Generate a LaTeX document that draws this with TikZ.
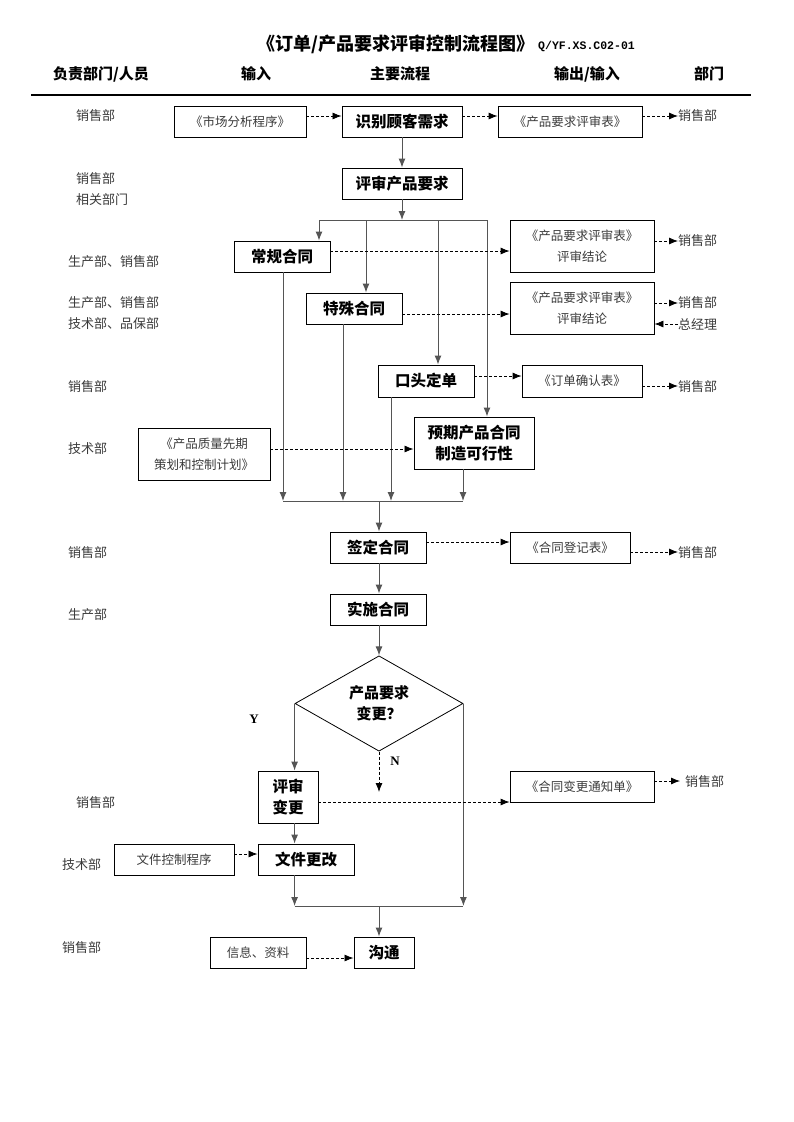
\documentclass[tikz,border=0pt]{standalone}
\usepackage{fontspec}
\setmainfont{Noto Sans CJK SC}
\newfontfamily\monofnt{Liberation Mono}
\newfontfamily\serifnt{Liberation Serif}
\usetikzlibrary{arrows.meta,shapes.geometric}
\definecolor{lbl}{HTML}{3A3A3A}
\definecolor{conn}{HTML}{555555}
\tikzset{
  mainbox/.style={draw=black, line width=0.9pt, inner sep=0pt, align=center,
    font=\bfseries\fontsize{15.5}{21}\selectfont, text=black},
  iobox/.style={draw=black, line width=0.8pt, inner sep=0pt, align=center,
    font=\fontsize{12.5}{21}\selectfont, text=lbl},
  dept/.style={anchor=west, inner sep=0pt, align=left, text=lbl,
    font=\fontsize{13}{21}\selectfont},
  hdr/.style={inner sep=0pt, font=\bfseries\fontsize{15}{18}\selectfont},
  flow/.style={draw=conn, line width=1pt, -{Latex[length=9pt,width=7pt]}},
  plain/.style={draw=conn, line width=1pt},
  dflow/.style={draw=black, line width=0.8pt, dash pattern=on 3pt off 2pt, -{Latex[length=9pt,width=7pt]}},
  yn/.style={inner sep=0pt, font=\serifnt\bfseries\fontsize{13}{15}\selectfont}
}
\begin{document}
\begin{tikzpicture}[x=1pt,y=-1pt]
\useasboundingbox (0,0) rectangle (793,1122);
% title & header
\node[inner sep=0pt, anchor=east, font=\bfseries\fontsize{18}{20}\selectfont] (title) at (535,44) {《订单/产品要求评审控制流程图》};
\node[inner sep=0pt, anchor=west, font=\monofnt\bfseries\fontsize{11.5}{14}\selectfont] (code) at (538,46) {Q/YF.XS.C02-01};
\node[hdr] (h1) at (101,74) {负责部门/人员};
\node[hdr] (h2) at (256,74) {输入};
\node[hdr] (h3) at (400,74) {主要流程};
\node[hdr] (h4) at (587,74) {输出/输入};
\node[hdr] (h5) at (709,74) {部门};
\coordinate (hl) at (31,95);
\coordinate (hr) at (751,95);
\draw[line width=1.2pt] (hl) -- (hr);

% left departments
\node[dept] (d1) at (76,116) {销售部};
\node[dept] (d2) at (76,189) {销售部\\相关部门};
\node[dept] (d3) at (68,262) {生产部、销售部};
\node[dept] (d4) at (68,313.5) {生产部、销售部\\技术部、品保部};
\node[dept] (d5) at (68,387) {销售部};
\node[dept] (d6) at (68,449) {技术部};
\node[dept] (d7) at (68,553) {销售部};
\node[dept] (d8) at (68,615) {生产部};
\node[dept] (d9) at (76,803) {销售部};
\node[dept] (d10) at (62,865) {技术部};
\node[dept] (d11) at (62,948) {销售部};

% right departments
\node[dept] (r1) at (678,116) {销售部};
\node[dept] (r2) at (678,241) {销售部};
\node[dept] (r3) at (678,303) {销售部};
\node[dept] (r4) at (678,324) {总经理};
\node[dept] (r5) at (678,387) {销售部};
\node[dept] (r6) at (678,553) {销售部};
\node[dept] (r7) at (685,782) {销售部};

% main boxes
\node[mainbox, minimum width=120pt, minimum height=31pt] (idn) at (402,121.5) {识别顾客需求};
\node[mainbox, minimum width=120pt, minimum height=31pt] (rev) at (402,183.5) {评审产品要求};
\node[mainbox, minimum width=96pt, minimum height=31pt] (cg) at (282,256.5) {常规合同};
\node[mainbox, minimum width=96pt, minimum height=31pt] (ts) at (354,308.5) {特殊合同};
\node[mainbox, minimum width=96pt, minimum height=32pt] (kt) at (426,381) {口头定单};
\node[mainbox, minimum width=120pt, minimum height=52pt] (yq) at (474,443) {预期产品合同\\制造可行性};
\node[mainbox, minimum width=96pt, minimum height=31pt] (qd) at (378,547.5) {签定合同};
\node[mainbox, minimum width=96pt, minimum height=31pt] (ss) at (378,609.5) {实施合同};
\node[draw=black, line width=0.8pt, shape=diamond, minimum width=168pt, minimum height=93pt, inner sep=0pt, align=center,
  font=\bfseries\fontsize{15}{21}\selectfont] (dia) at (379,703.5) {产品要求\\变更？};
\node[mainbox, minimum width=60pt, minimum height=52pt] (psbg) at (288,797) {评审\\变更};
\node[mainbox, minimum width=96pt, minimum height=31pt] (wjgg) at (306,859.5) {文件更改};
\node[mainbox, minimum width=60pt, minimum height=31pt] (gt) at (384,952.5) {沟通};

% io boxes
\node[iobox, minimum width=132pt, minimum height=31pt] (mkt) at (240,121.5) {《市场分析程序》};
\node[iobox, minimum width=144pt, minimum height=31pt] (pro1) at (570,121.5) {《产品要求评审表》};
\node[iobox, minimum width=144pt, minimum height=52pt] (pro2) at (582,246) {《产品要求评审表》\\评审结论};
\node[iobox, minimum width=144pt, minimum height=52pt] (pro3) at (582,308) {《产品要求评审表》\\评审结论};
\node[iobox, minimum width=120pt, minimum height=32pt] (ddq) at (582,381) {《订单确认表》};
\node[iobox, minimum width=132pt, minimum height=52pt] (plan) at (204,454) {《产品质量先期\\策划和控制计划》};
\node[iobox, minimum width=120pt, minimum height=31pt] (djb) at (570,547.5) {《合同登记表》};
\node[iobox, minimum width=144pt, minimum height=31pt] (tzd) at (582,786.5) {《合同变更通知单》};
\node[iobox, minimum width=120pt, minimum height=31pt] (wjkz) at (174,859.5) {文件控制程序};
\node[iobox, minimum width=96pt, minimum height=31pt] (xx) at (258,952.5) {信息、资料};

% Y / N
\node[yn] (ylab) at (254,719) {Y};
\node[yn] (nlab) at (395,761) {N};

% bar coordinates
\coordinate (b1L) at (319,220);
\coordinate (b1R) at (487,220);
\coordinate (b1a) at (366,220);
\coordinate (b1b) at (438,220);
\coordinate (b2L) at (283,501);
\coordinate (b2R) at (463,501);
\coordinate (m2) at (379,501);
\coordinate (b3L) at (295,906);
\coordinate (b3R) at (463,906);
\coordinate (m3) at (379,906);
\coordinate (nlev) at (379,792);

% main flow
\draw[flow] (idn) -- (rev);
\draw[flow] (rev.south) -- (rev.south |- b1L);
\draw[plain] (b1L) -- (b1R);
\draw[flow] (b1L) -- (b1L |- cg.north);
\draw[flow] (b1a) -- (b1a |- ts.north);
\draw[flow] (b1b) -- (b1b |- kt.north);
\draw[flow] (b1R) -- (b1R |- yq.north);

\draw[flow] (b2L |- cg.south) -- (b2L);
\draw[flow] ([xshift=-11pt]ts.south) -- ([xshift=-11pt]ts.south |- b2L);
\draw[flow] ([xshift=-35pt]kt.south) -- ([xshift=-35pt]kt.south |- b2L);
\draw[flow] ([xshift=-11pt]yq.south) -- ([xshift=-11pt]yq.south |- b2L);
\draw[plain] (b2L) -- (b2R);
\draw[flow] (m2) -- (m2 |- qd.north);
\draw[flow] (m2 |- qd.south) -- (m2 |- ss.north);
\draw[flow] (m2 |- ss.south) -- (dia.north);

\draw[flow] (dia.west) -- (dia.west |- psbg.north);
\draw[flow] (dia.west |- psbg.south) -- (dia.west |- wjgg.north);
\draw[flow] (dia.west |- wjgg.south) -- (dia.west |- b3L);
\draw[flow] (dia.east) -- (dia.east |- b3R);
\draw[plain] (dia.west |- b3L) -- (dia.east |- b3R);
\draw[flow] (m3) -- (m3 |- gt.north);
\draw[dflow] (dia.south) -- (nlev);

% dashed inputs / outputs
\draw[dflow] ([yshift=5.5pt]mkt.east) -- ([yshift=5.5pt]idn.west);
\draw[dflow] ([yshift=5.5pt]idn.east) -- ([yshift=5.5pt]pro1.west);
\draw[dflow] ([yshift=5.5pt]pro1.east) -- ([yshift=5.5pt]pro1.east -| r1.west);
\draw[dflow] ([yshift=5.5pt]cg.east) -- ([yshift=5.5pt]cg.east -| pro2.west);
\draw[dflow] ([yshift=-5.5pt]ts.east) -- ([yshift=-5.5pt]ts.east -| pro3.west);
\draw[dflow] ([yshift=5pt]pro2.east) -- ([yshift=5pt]pro2.east -| r2.west);
\draw[dflow] ([yshift=5pt]pro3.east) -- ([yshift=5pt]pro3.east -| r3.west);
\draw[dflow] ([yshift=-16pt]pro3.east -| r4.west) -- ([yshift=-16pt]pro3.east);
\draw[dflow] ([yshift=5pt]kt.east) -- ([yshift=5pt]kt.east -| ddq.west);
\draw[dflow] ([yshift=-5pt]ddq.east) -- ([yshift=-5pt]ddq.east -| r5.west);
\draw[dflow] ([yshift=5pt]plan.east) -- ([yshift=5pt]plan.east -| yq.west);
\draw[dflow] ([yshift=5.5pt]qd.east) -- ([yshift=5.5pt]qd.east -| djb.west);
\draw[dflow] ([yshift=-4.5pt]djb.east) -- ([yshift=-4.5pt]djb.east -| r6.west);
\draw[dflow] ([yshift=-5pt]psbg.east) -- ([yshift=-5pt]psbg.east -| tzd.west);
\draw[dflow] ([yshift=5.5pt]tzd.east) -- ([yshift=5.5pt,xshift=-5pt]tzd.east -| r7.west);
\draw[dflow] ([yshift=5.5pt]wjkz.east) -- ([yshift=5.5pt]wjgg.west);
\draw[dflow] ([yshift=-5.5pt]xx.east) -- ([yshift=-5.5pt]gt.west);
\end{tikzpicture}
\end{document}
